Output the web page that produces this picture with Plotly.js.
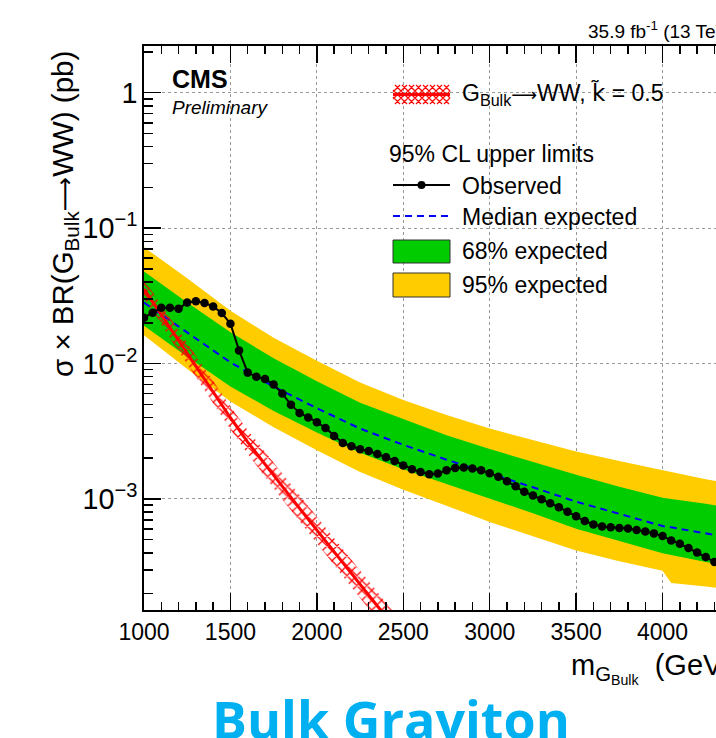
<!DOCTYPE html>
<html>
<head>
<meta charset="utf-8">
<script src="https://cdn.plot.ly/plotly-3.0.1.min.js"></script>
<style>
  html, body { margin: 0; padding: 0; background: #fff; overflow: hidden; width: 716px; height: 738px; }
  #chart { width: 760px; height: 738px; }
</style>
</head>
<body>
<div id="chart"></div>
<script>
// Expected-limit band knots (GeV) and limits (pb)
const bandMass  = [1000, 1250, 1500, 1750, 2000, 2250, 2500, 2750, 3000, 3250, 3500, 3750, 4000, 4050, 4250, 4500];
const expMedian = [0.0282, 0.0170, 0.0102, 0.00676, 0.00468, 0.00331, 0.00251, 0.00195, 0.00155, 0.00122, 0.000955, 0.000776, 0.000631, 0.000617, 0.000556, 0.00049];
const exp68Up   = [0.0479, 0.0282, 0.0170, 0.01096, 0.00741, 0.00513, 0.00389, 0.00295, 0.00234, 0.00188, 0.00151, 0.00123, 0.00102, 0.00100, 0.000923, 0.000813];
const exp68Down = [0.01905, 0.01122, 0.00676, 0.00447, 0.00309, 0.00219, 0.00166, 0.00129, 0.00100, 0.000785, 0.000603, 0.00049, 0.000398, 0.000389, 0.000343, 0.000302];
const exp95Up   = [0.0724, 0.0427, 0.0245, 0.0155, 0.01047, 0.00724, 0.00537, 0.00417, 0.00331, 0.00272, 0.00224, 0.00191, 0.00162, 0.00158, 0.00140, 0.00123];
const exp95Down = [0.0162, 0.00912, 0.00525, 0.00339, 0.00229, 0.00158, 0.00117, 0.000891, 0.000676, 0.000531, 0.000417, 0.000347, 0.000295, 0.00024, 0.000226, 0.000204];

// Observed limit (pb)
const obsMass = [1000, 1050, 1100, 1150, 1200, 1250, 1300, 1350, 1400, 1450,
                 1500, 1550, 1600, 1650, 1700, 1750, 1800, 1850, 1900, 1950,
                 2000, 2050, 2100, 2150, 2200, 2250, 2300, 2350, 2400, 2450,
                 2500, 2550, 2600, 2650, 2700, 2750, 2800, 2850, 2900, 2950,
                 3000, 3050, 3100, 3150, 3200, 3250, 3300, 3350, 3400, 3450,
                 3500, 3550, 3600, 3650, 3700, 3750, 3800, 3850, 3900, 3950,
                 4000, 4050, 4100, 4150, 4200, 4250, 4300];
const obsLimit = [0.0218, 0.0237, 0.0258, 0.0258, 0.0254, 0.0282, 0.0288, 0.0280, 0.0264, 0.0236,
                  0.0197, 0.0125, 0.00857, 0.0080, 0.0077, 0.0070, 0.00600, 0.00497, 0.00432, 0.00400,
                  0.00369, 0.00334, 0.00292, 0.00259, 0.00245, 0.00233, 0.00226, 0.00215, 0.00203, 0.00191,
                  0.00177, 0.00166, 0.00158, 0.00152, 0.00154, 0.00163, 0.00169, 0.00171, 0.00168, 0.00163,
                  0.00155, 0.00146, 0.00135, 0.00124, 0.00113, 0.00106, 0.000995, 0.00093, 0.00087, 0.000805,
                  0.000744, 0.000687, 0.000649, 0.000627, 0.000617, 0.00061, 0.000606, 0.000589, 0.000576, 0.000557,
                  0.000532, 0.000494, 0.000467, 0.000434, 0.000403, 0.000372, 0.000343];

// Bulk graviton (k~ = 0.5) cross section x BR with its uncertainty (pb)
const sigMass = [1000, 1100, 1200, 1300, 1400, 1500, 1600, 1700, 1800, 1900, 2000, 2100, 2200, 2300, 2400, 2500];
const sigXsec = [0.0355, 0.0229, 0.0148, 0.00955, 0.0061, 0.00398, 0.00263, 0.0018, 0.00123, 0.000851, 0.000589, 0.000407, 0.000282, 0.000195, 0.000135, 0.0000933];
const sigUp   = [0.0418, 0.0272, 0.0177, 0.0115, 0.00738, 0.00484, 0.00322, 0.00222, 0.00153, 0.00106, 0.000739, 0.000513, 0.000357, 0.000248, 0.000172, 0.000119];
const sigDown = [0.0302, 0.0193, 0.0124, 0.00793, 0.00504, 0.00327, 0.00215, 0.00146, 0.000992, 0.000684, 0.000471, 0.000323, 0.000223, 0.000153, 0.000106, 0.0000732];

const FONT = 'Liberation Sans, Arial, Helvetica, sans-serif';
const GREEN = '#00cc00', YELLOW = '#ffcc00', BLUE = '#0000ff', RED = '#ff0000';
const arrow = size => `<span style="font-family:DejaVu Sans;font-size:${size}px">\u27f6</span>`;

// closed polygon between an upper and a lower curve
function band(xs, hi, lo) {
  return { x: xs.concat(xs.slice().reverse()), y: hi.concat(lo.slice().reverse()) };
}

const b95 = band(bandMass, exp95Up, exp95Down);
const b68 = band(bandMass, exp68Up, exp68Down);
const bSig = band(sigMass, sigUp, sigDown);

const traces = [
  { x: b95.x, y: b95.y, mode: 'lines', fill: 'toself', fillcolor: YELLOW, line: { width: 0 }, hoverinfo: 'skip' },
  { x: b68.x, y: b68.y, mode: 'lines', fill: 'toself', fillcolor: GREEN, line: { width: 0 }, hoverinfo: 'skip' },
  { x: bandMass, y: expMedian, mode: 'lines', line: { color: BLUE, width: 2, dash: '7px,5px' } },
  { x: bSig.x, y: bSig.y, mode: 'lines', fill: 'toself', fillcolor: 'rgba(0,0,0,0)', line: { width: 0 },
    fillpattern: { shape: 'x', fgcolor: RED, bgcolor: 'rgba(0,0,0,0)', size: 7, solidity: 0.32 }, hoverinfo: 'skip' },
  { x: sigMass, y: sigXsec, mode: 'lines', line: { color: RED, width: 3 } },
  { x: obsMass, y: obsLimit, mode: 'lines+markers', line: { color: '#000', width: 2 },
    marker: { color: '#000', size: 8.5 } }
];

// page geometry of the plotting frame
const ML = 144, MT = 46, PW = 605, PH = 564;
const px = v => (v - ML) / PW;
const py = v => 1 - (v - MT) / PH;

// legend swatches
const shapes = [];
const L0 = 393, L1 = 450;
(function hatch() {
  const y0 = 85, y1 = 104, step = 7;
  let d = '';
  for (let c = -(y1 - y0); c <= (L1 - L0); c += step) {
    // rising and falling diagonals, clipped to the swatch
    const xa = L0 + Math.max(c, 0), xb = L0 + Math.min(c + (y1 - y0), L1 - L0);
    if (xb > xa) {
      d += `M${px(xa)},${py(y1 - (xa - L0 - c))}L${px(xb)},${py(y1 - (xb - L0 - c))}`;
      d += `M${px(xa)},${py(y0 + (xa - L0 - c))}L${px(xb)},${py(y0 + (xb - L0 - c))}`;
    }
  }
  shapes.push({ type: 'path', xref: 'paper', yref: 'paper', path: d, line: { color: RED, width: 1.2 } });
})();
shapes.push({ type: 'line', xref: 'paper', yref: 'paper', x0: px(L0), x1: px(L1), y0: py(94.5), y1: py(94.5), line: { color: RED, width: 3 } });
shapes.push({ type: 'line', xref: 'paper', yref: 'paper', x0: px(L0), x1: px(L1), y0: py(185), y1: py(185), line: { color: '#000', width: 2 } });
shapes.push({ type: 'circle', xref: 'paper', yref: 'paper', x0: px(417.5), x1: px(425.5), y0: py(181), y1: py(189), fillcolor: '#000', line: { color: '#000', width: 0 } });
shapes.push({ type: 'line', xref: 'paper', yref: 'paper', x0: px(L0), x1: px(L1), y0: py(216), y1: py(216), line: { color: BLUE, width: 2, dash: '7px,5px' } });
shapes.push({ type: 'rect', xref: 'paper', yref: 'paper', x0: px(L0), x1: px(L1), y0: py(240), y1: py(263), fillcolor: GREEN, line: { color: '#333', width: 1 } });
shapes.push({ type: 'rect', xref: 'paper', yref: 'paper', x0: px(L0), x1: px(L1), y0: py(273), y1: py(297), fillcolor: YELLOW, line: { color: '#333', width: 1 } });

function txt(text, x, y, size, opts) {
  return Object.assign({ text: text, xref: 'paper', yref: 'paper', x: px(x), y: py(y), xanchor: 'left', yanchor: 'middle',
    showarrow: false, font: { family: FONT, size: size, color: '#000' } }, opts || {});
}

const annotations = [
  txt('G<sub>Bulk</sub>' + arrow(18) + 'WW, <span style="font-family:DejaVu Sans">k\u0303</span> = 0.5', 460, 94, 23),
  txt('95% CL upper limits', 387, 154, 23),
  txt('Observed', 460, 186, 23),
  txt('Median expected', 460, 217, 23),
  txt('68% expected', 460, 251, 23),
  txt('95% expected', 460, 285, 23),
  txt('<b>CMS</b>', 170, 79, 25),
  txt('<i>Preliminary</i>', 170, 107, 19),
  txt('35.9 fb<sup>-1</sup> (13 TeV)', 586, 30, 19),
  txt('m<sub>G<sub>Bulk</sub></sub>  (GeV)', 569, 668, 29),
  txt('\u03c3 \u00d7 BR(G<sub>Bulk</sub>' + arrow(24) + 'WW) (pb)', 64, 214, 29.5, { xanchor: 'center', textangle: -90 }),
  txt('<b>Bulk Graviton</b>', 391, 718, 52, { xanchor: 'center', font: { family: 'Open Sans, Lato, sans-serif', size: 52, color: '#00b0f0' } })
];

const axisCommon = {
  showline: true, linecolor: '#000', linewidth: 2, mirror: 'ticks',
  ticks: 'inside', tickcolor: '#000', tickwidth: 1.5, ticklen: 17,
  showgrid: true, gridcolor: '#999', griddash: 'dot', gridwidth: 1, zeroline: false,
  tickfont: { family: FONT, size: 23, color: '#000' }
};

const layout = {
  width: 760, height: 738,
  margin: { l: ML, r: 760 - ML - PW, t: MT, b: 738 - MT - PH },
  paper_bgcolor: '#fff', plot_bgcolor: '#fff',
  showlegend: false,
  xaxis: Object.assign({}, axisCommon, {
    range: [1000, 4500], tickmode: 'linear', tick0: 1000, dtick: 500,
    minor: { ticks: 'inside', ticklen: 8, tickcolor: '#000', tickwidth: 1.5, dtick: 100, tick0: 1000, showgrid: false }
  }),
  yaxis: Object.assign({}, axisCommon, {
    type: 'log', range: [-3.82, 0.345], dtick: 1, exponentformat: 'power',
    minor: { ticks: 'inside', ticklen: 9, tickcolor: '#000', tickwidth: 1.5, dtick: 'D1', showgrid: false }
  }),
  shapes: shapes,
  annotations: annotations
};

Plotly.newPlot('chart', traces, layout, { displayModeBar: false, staticPlot: true });
</script>
</body>
</html>
